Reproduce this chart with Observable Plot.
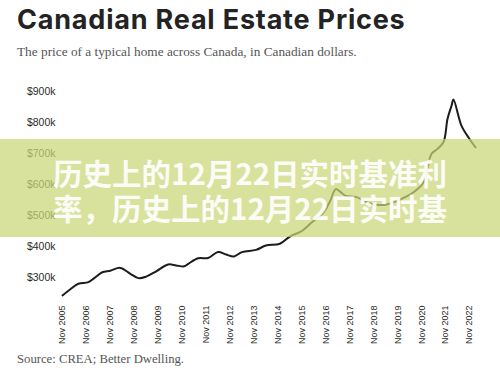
<!DOCTYPE html>
<html>
<head>
<meta charset="utf-8">
<script src="https://cdn.jsdelivr.net/npm/d3@7"></script>
<script src="https://cdn.jsdelivr.net/npm/@observablehq/plot@0.6"></script>
<style>
  html, body { margin: 0; padding: 0; background: #fff; }
  #wrap { position: relative; width: 500px; height: 380px; overflow: hidden; background: #fff; }
  #title { position: absolute; left: 17px; top: 3px; font-family: Inter, "Open Sans", sans-serif; font-weight: 700; font-size: 27px; letter-spacing: 0.8px; color: #232323; white-space: nowrap; }
  #subtitle { position: absolute; left: 17px; top: 44px; font-family: "Liberation Serif", "DejaVu Serif", serif; font-size: 13.3px; color: #555; white-space: nowrap; }
  #chart { position: absolute; left: 0; top: 70px; }
  #caption { position: absolute; left: 17px; top: 352px; font-family: "Liberation Serif", "DejaVu Serif", serif; font-size: 12.7px; color: #555; white-space: nowrap; }
  #banner { position: absolute; left: 0; top: 139px; width: 500px; height: 98px; background: rgba(201,215,119,0.72); }
  #banner div { position: absolute; left: 53px; font-family: "Noto Sans CJK SC", sans-serif; font-weight: 700; font-size: 29.5px; color: rgba(255,255,255,0.93); white-space: nowrap; line-height: 1; }
</style>
</head>
<body>
<div id="wrap">
  <div id="title">Canadian Real Estate Prices</div>
  <div id="subtitle">The price of a typical home across Canada, in Canadian dollars.</div>
  <div id="chart"></div>
  <div id="caption">Source: CREA; Better Dwelling.</div>
  <div id="banner">
    <div id="b1" style="top:19px">历史上的12月22日实时基准利</div>
    <div id="b2" style="top:54px">率，历史上的12月22日实时基</div>
  </div>
</div>
<script>
const months = [
  "2005-11","2006-03","2006-07","2006-12","2007-03","2007-07","2007-11","2008-04","2008-09","2009-01",
  "2009-05","2009-10","2010-04","2010-08","2010-12","2011-02","2011-07","2011-12","2012-05","2012-09",
  "2013-01","2013-05","2013-12","2014-05","2014-12","2015-05","2015-11","2016-04","2016-10","2017-01",
  "2017-04","2017-06","2017-09","2018-02","2018-07","2018-12","2019-05","2019-10","2020-03","2020-07",
  "2020-12","2021-04","2021-07","2021-10","2021-12","2022-02","2022-03","2022-07","2022-11","2023-02"
];
const pricesK = [
  242, 262, 280, 285, 298, 317, 322, 331, 312, 298,
  303, 320, 342, 339, 336, 344, 362, 363, 382, 374,
  368, 382, 389, 403, 409, 432, 450, 478, 511, 545,
  585, 578, 563, 560, 545, 535, 535, 545, 560, 575,
  607, 699, 715, 737, 812, 855, 874, 790, 747, 720
];
const yTicksK = [300, 400, 500, 600, 700, 800, 900];
const tickYears = [2005,2006,2007,2008,2009,2010,2011,2012,2013,2014,2015,2016,2017,2018,2019,2020,2021,2022];

const data = months.map((m, i) => ({date: new Date(m + "-01T00:00:00Z"), value: pricesK[i] * 1000}));
const yTicks = yTicksK.map(v => v * 1000);
const xTicks = tickYears.map(y => new Date(Date.UTC(y, 10, 1)));

const chart = Plot.plot({
  width: 500,
  height: 280,
  marginLeft: 62,
  marginRight: 31,
  marginTop: 21,
  marginBottom: 73,
  x: {type: "utc", domain: [xTicks[0], xTicks[xTicks.length - 1]]},
  y: {domain: [300000, 900000]},
  style: {fontFamily: "'Liberation Sans', Arial, sans-serif", color: "#2b2b2b", background: "transparent"},
  marks: [
    Plot.axisY({ticks: yTicks, tickSize: 0, tickPadding: 7, fontSize: 10.5, label: null,
      tickFormat: d => `$${d / 1000}k`}),
    Plot.axisX({ticks: xTicks, tickSize: 0, tickPadding: 28, tickRotate: -90, fontSize: 9, label: null,
      tickFormat: d3.utcFormat("%b %Y")}),
    Plot.line(data, {x: "date", y: "value", stroke: "#1c1c1c", strokeWidth: 2, curve: "catmull-rom"})
  ]
});
document.getElementById("chart").appendChild(chart);
</script>
</body>
</html>
